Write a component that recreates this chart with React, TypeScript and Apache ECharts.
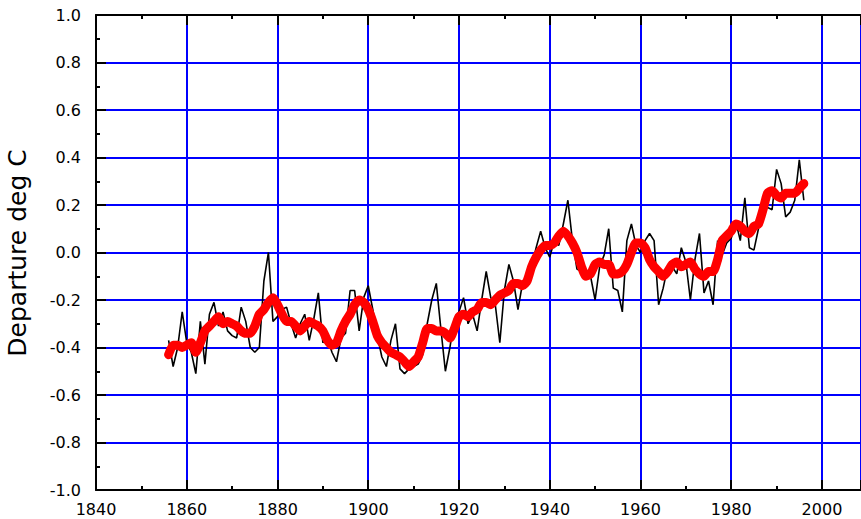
import React, { useEffect, useRef } from "react";
import * as echarts from "echarts";

const years = [
  1856, 1857, 1858, 1859, 1860, 1861, 1862, 1863, 1864, 1865, 1866, 1867, 1868, 1869, 1870,
  1871, 1872, 1873, 1874, 1875, 1876, 1877, 1878, 1879, 1880, 1881, 1882, 1883, 1884, 1885,
  1886, 1887, 1888, 1889, 1890, 1891, 1892, 1893, 1894, 1895, 1896, 1897, 1898, 1899, 1900,
  1901, 1902, 1903, 1904, 1905, 1906, 1907, 1908, 1909, 1910, 1911, 1912, 1913, 1914, 1915,
  1916, 1917, 1918, 1919, 1920, 1921, 1922, 1923, 1924, 1925, 1926, 1927, 1928, 1929, 1930,
  1931, 1932, 1933, 1934, 1935, 1936, 1937, 1938, 1939, 1940, 1941, 1942, 1943, 1944, 1945,
  1946, 1947, 1948, 1949, 1950, 1951, 1952, 1953, 1954, 1955, 1956, 1957, 1958, 1959, 1960,
  1961, 1962, 1963, 1964, 1965, 1966, 1967, 1968, 1969, 1970, 1971, 1972, 1973, 1974, 1975,
  1976, 1977, 1978, 1979, 1980, 1981, 1982, 1983, 1984, 1985, 1986, 1987, 1988, 1989, 1990,
  1991, 1992, 1993, 1994, 1995, 1996,
];

const annual = [
  -0.37, -0.48, -0.40, -0.25, -0.38, -0.42, -0.51, -0.29, -0.47, -0.26, -0.21, -0.31, -0.25, -0.33, -0.35,
  -0.36, -0.23, -0.29, -0.40, -0.42, -0.40, -0.12, 0.00, -0.29, -0.27, -0.24, -0.23, -0.30, -0.36, -0.30,
  -0.26, -0.37, -0.28, -0.17, -0.38, -0.36, -0.42, -0.46, -0.36, -0.34, -0.16, -0.16, -0.33, -0.19, -0.14,
  -0.24, -0.35, -0.44, -0.48, -0.37, -0.30, -0.49, -0.51, -0.49, -0.48, -0.47, -0.43, -0.30, -0.20, -0.13,
  -0.32, -0.50, -0.40, -0.28, -0.25, -0.19, -0.30, -0.26, -0.33, -0.20, -0.08, -0.19, -0.22, -0.38, -0.16,
  -0.05, -0.12, -0.24, -0.13, -0.10, -0.06, 0.02, 0.09, 0.02, -0.02, 0.05, 0.03, 0.12, 0.22, 0.05,
  -0.07, -0.08, -0.09, -0.10, -0.20, -0.06, -0.01, 0.10, -0.15, -0.16, -0.25, 0.05, 0.12, 0.03, 0.00,
  0.05, 0.08, 0.05, -0.22, -0.15, -0.06, -0.06, -0.09, 0.02, -0.04, -0.20, -0.03, 0.08, -0.17, -0.12,
  -0.22, 0.05, -0.01, 0.04, 0.06, 0.13, 0.05, 0.23, 0.02, 0.01, 0.10, 0.22, 0.19, 0.18, 0.35,
  0.29, 0.15, 0.17, 0.22, 0.39, 0.22,
];

const smoothed = [
  -0.43, -0.39, -0.39, -0.40, -0.39, -0.38, -0.42, -0.38, -0.33, -0.31, -0.29, -0.27, -0.30, -0.29, -0.30,
  -0.31, -0.33, -0.34, -0.34, -0.31, -0.26, -0.24, -0.21, -0.19, -0.22, -0.26, -0.29, -0.29, -0.31, -0.33,
  -0.31, -0.29, -0.30, -0.31, -0.33, -0.37, -0.39, -0.38, -0.33, -0.29, -0.26, -0.22, -0.20, -0.21, -0.24,
  -0.29, -0.35, -0.38, -0.40, -0.42, -0.43, -0.44, -0.46, -0.48, -0.46, -0.44, -0.38, -0.32, -0.32, -0.33,
  -0.33, -0.34, -0.36, -0.32, -0.27, -0.26, -0.27, -0.25, -0.24, -0.21, -0.21, -0.22, -0.20, -0.18, -0.17,
  -0.16, -0.13, -0.13, -0.14, -0.12, -0.06, -0.02, 0.01, 0.03, 0.03, 0.04, 0.07, 0.09, 0.07, 0.04,
  0.00, -0.06, -0.10, -0.09, -0.05, -0.04, -0.05, -0.05, -0.09, -0.09, -0.08, -0.05, 0.00, 0.04, 0.04,
  0.02, -0.03, -0.06, -0.08, -0.10, -0.08, -0.05, -0.04, -0.06, -0.05, -0.04, -0.07, -0.09, -0.10, -0.08,
  -0.08, -0.03, 0.05, 0.07, 0.09, 0.12, 0.11, 0.09, 0.08, 0.11, 0.12, 0.18, 0.25, 0.26, 0.24,
  0.23, 0.25, 0.25, 0.25, 0.27, 0.29,
];

const yTitle = "Departure deg C";

const FONT = "DejaVu Sans";
const X_MIN = 1840;
const X_MAX = 2008.6;

export default function App() {
  const ref = useRef<HTMLDivElement>(null);

  useEffect(() => {
    if (!ref.current) return;
    const chart = echarts.init(ref.current, undefined, { renderer: "svg" });

    const tickAxisCommon = {
      type: "value" as const,
      min: X_MIN,
      max: X_MAX,
      interval: 20,
      splitLine: { show: false },
      axisLine: { show: true, onZero: false, lineStyle: { color: "#000", width: 2 } },
      axisTick: { show: true, inside: true, length: 10, lineStyle: { color: "#000", width: 2 } },
      minorTick: { show: true, splitNumber: 2, length: 4, lineStyle: { color: "#000", width: 2 } },
      z: 5,
    };

    chart.setOption({
      animation: false,
      backgroundColor: "#fff",
      grid: { left: 96, top: 15, right: 0, height: 475, containLabel: false },
      graphic: [
        {
          type: "text",
          x: 17,
          y: 253,
          rotation: Math.PI / 2,
          style: {
            text: yTitle,
            fontFamily: FONT,
            fontSize: 25,
            fill: "#000",
            align: "center",
            verticalAlign: "middle",
          },
        },
      ],
      xAxis: [
        {
          ...tickAxisCommon,
          position: "bottom",
          axisLabel: {
            show: true,
            showMaxLabel: false,
            margin: 11,
            color: "#000",
            fontFamily: FONT,
            fontSize: 16,
            formatter: (v: number) => String(Math.round(v)),
          },
        },
        {
          ...tickAxisCommon,
          position: "top",
          axisLabel: { show: false },
        },
        {
          type: "value",
          min: X_MIN,
          max: X_MAX,
          interval: 20,
          position: "bottom",
          axisLine: { show: false },
          axisTick: { show: false },
          axisLabel: { show: false },
          splitLine: { show: true, lineStyle: { color: "#0000ff", width: 2 } },
          z: 0,
        },
      ],
      yAxis: [
        {
          type: "value",
          min: -1,
          max: 1,
          interval: 0.2,
          position: "left",
          splitLine: { show: false },
          axisLine: { show: true, onZero: false, lineStyle: { color: "#000", width: 2 } },
          axisTick: { show: true, inside: true, length: 10, lineStyle: { color: "#000", width: 2 } },
          minorTick: { show: true, splitNumber: 2, length: 4, lineStyle: { color: "#000", width: 2 } },
          axisLabel: {
            show: true,
            margin: 15,
            color: "#000",
            fontFamily: FONT,
            fontSize: 16,
            formatter: (v: number) => (Math.abs(v) < 1e-9 ? "0.0" : v.toFixed(1)),
          },
          z: 5,
        },
        {
          type: "value",
          min: -1,
          max: 1,
          interval: 0.2,
          position: "right",
          axisLine: { show: false },
          axisTick: { show: false },
          axisLabel: { show: false },
          splitLine: { show: true, lineStyle: { color: "#0000ff", width: 2 } },
          z: 0,
        },
      ],
      series: [
        {
          type: "line",
          xAxisIndex: 0,
          yAxisIndex: 0,
          data: years.map((y, i) => [y, annual[i]]),
          showSymbol: false,
          symbol: "none",
          lineStyle: { color: "#000", width: 1.6 },
          z: 2,
        },
        {
          type: "line",
          xAxisIndex: 0,
          yAxisIndex: 0,
          data: years.map((y, i) => [y, smoothed[i]]),
          showSymbol: false,
          symbol: "none",
          smooth: 0.2,
          lineStyle: { color: "#ff0000", width: 9, cap: "round", join: "round" },
          z: 3,
        },
      ],
    });

    return () => chart.dispose();
  }, []);

  return (
    <div
      ref={ref}
      style={{ position: "fixed", left: 0, top: 0, width: 861, height: 519, background: "#fff" }}
    />
  );
}
